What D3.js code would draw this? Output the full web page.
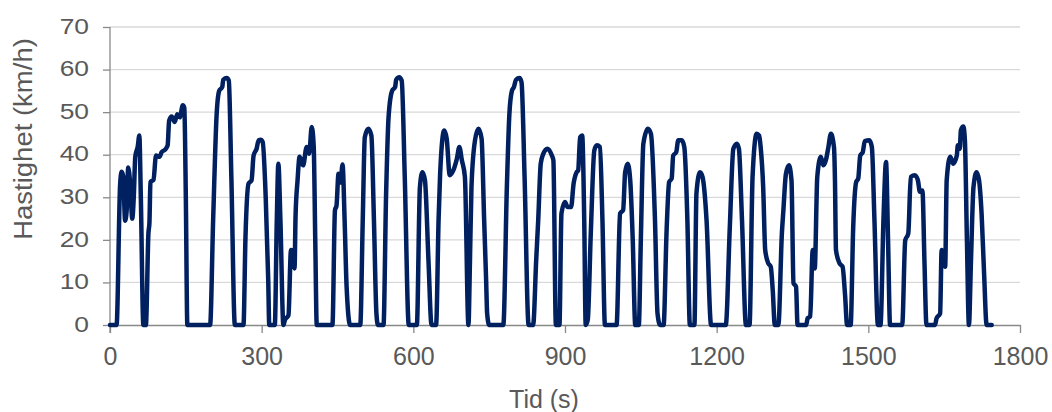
<!DOCTYPE html>
<html>
<head>
<meta charset="utf-8">
<script src="https://cdn.jsdelivr.net/npm/d3@7"></script>
<style>
  html, body { margin: 0; padding: 0; background: #fff; }
  svg { display: block; font-family: "Liberation Sans", Arial, sans-serif; }
</style>
</head>
<body>
<svg id="chart" width="1052" height="412"></svg>
<script>
// Driving cycle: time (s) and speed (km/h)
const time = [
  0, 13, 20, 23, 26, 30, 33, 36, 40, 44, 47, 50, 55, 58, 61, 66, 71, 76, 78, 80,
  86, 91, 98, 102, 109, 114, 117, 122, 128, 133, 138, 144, 147, 150, 153, 198, 204, 211, 216, 222,
  224, 231, 235, 240, 247, 264, 268, 274, 280, 284, 290, 294, 298, 302, 308, 313, 315, 326, 330, 333,
  337, 343, 346, 353, 358, 363, 365, 367, 371, 375, 382, 389, 394, 399, 403, 406, 409, 440, 445, 448,
  452, 456, 460, 464, 468, 475, 495, 500, 504, 511, 517, 522, 527, 530, 541, 546, 551, 558, 564, 566,
  572, 577, 583, 591, 607, 613, 618, 623, 630, 636, 645, 650, 653, 661, 666, 672, 679, 686, 691, 696,
  702, 709, 712, 715, 722, 729, 735, 740, 744, 746, 750, 778, 785, 790, 795, 799, 803, 810, 814, 820,
  828, 837, 843, 847, 852, 857, 865, 874, 877, 882, 889, 893, 900, 905, 912, 917, 923, 926, 930, 934,
  938, 941, 945, 951, 958, 963, 969, 974, 979, 1002, 1009, 1015, 1019, 1024, 1029, 1034, 1039, 1046, 1050, 1055,
  1064, 1070, 1078, 1083, 1088, 1095, 1101, 1106, 1111, 1114, 1120, 1124, 1131, 1136, 1142, 1147, 1156, 1160, 1167, 1172,
  1180, 1189, 1218, 1226, 1233, 1240, 1244, 1250, 1258, 1265, 1271, 1279, 1284, 1287, 1292, 1296, 1302, 1307, 1311, 1315,
  1322, 1329, 1332, 1337, 1343, 1348, 1352, 1357, 1360, 1377, 1380, 1385, 1390, 1394, 1399, 1406, 1411, 1416, 1421, 1426,
  1432, 1434, 1436, 1443, 1449, 1454, 1458, 1465, 1470, 1476, 1480, 1484, 1489, 1493, 1502, 1507, 1512, 1519, 1524, 1530,
  1535, 1539, 1543, 1567, 1573, 1579, 1584, 1592, 1598, 1602, 1607, 1611, 1615, 1632, 1635, 1642, 1645, 1652, 1655, 1662,
  1668, 1675, 1677, 1681, 1683, 1688, 1691, 1695, 1699, 1703, 1708, 1714, 1719, 1724, 1729, 1734, 1744
];
const speed = [
  0, 0, 33, 36, 35, 24.5, 27, 37, 33, 25, 30, 39.5, 42, 44.5, 30, 0, 0, 21.5, 24, 33.6,
  34.1, 39.8, 39.5, 40.6, 41.2, 42.2, 48, 49, 47.7, 49.5, 48.8, 51.6, 51, 30, 0, 0, 24.6, 49.6, 55, 55.9,
  57.6, 58, 57.4, 35, 0, 0, 20.7, 33.2, 34, 39.8, 41.4, 43.4, 43.5, 43, 30, 10.5, 0, 0, 25, 37.9,
  25, 0, 1.2, 2.3, 17.6, 17, 13.3, 25.4, 34, 39.5, 37.5, 41.8, 40.2, 46.5, 41.8, 20, 0, 0, 27, 28,
  35.5, 33.5, 37.7, 25, 9, 0, 0, 25, 44.1, 46.1, 44.5, 25, 2.7, 0, 0, 30, 48.8, 55, 55.9, 57.6,
  58.2, 57.4, 35, 0, 0, 32.4, 35.9, 34, 15, 0, 0, 25, 35.5, 45.7, 43.8, 35.2, 36.3, 39, 41.8, 38.7,
  34.8, 0, 15, 32.4, 43.4, 46.1, 43.8, 25, 10.5, 2.7, 0, 0, 32.4, 49.6, 55, 55.9, 57.6, 58, 57, 35,
  0, 0, 15.2, 24.6, 37.9, 40.2, 41.4, 39.8, 38.7, 0, 0, 26.2, 28.9, 27.7, 27.7, 33.2, 35.9, 36.3, 44.1, 44.5,
  25, 0, 1.2, 21.5, 41, 42.2, 41.8, 25, 0, 0, 26.2, 27, 35.9, 37.9, 34, 20, 0, 0, 20, 42.6,
  46.1, 44.9, 24.6, 2.7, 0, 0, 22.3, 33.6, 34.4, 39.8, 40.6, 43.4, 43.4, 41.8, 25, 0, 0, 30.9, 35.9, 34.8,
  24.6, 0, 0, 23, 41.4, 42.6, 41.4, 25, 0, 0, 34.8, 44.9, 44.5, 41.8, 32.4, 17.6, 14.5, 13.7, 8, 0,
  0, 21.5, 27, 35.5, 37.5, 34, 9.8, 9, 0, 0, 1.6, 2, 17.6, 13.3, 34.8, 39.5, 37.5, 38.7, 41.8, 44.9,
  41.8, 34, 17.6, 14.5, 13.7, 7, 0, 0, 22.7, 33.6, 34.4, 39.8, 40.6, 43.2, 43.4, 41.8, 25, 0, 0, 25,
  38.3, 20, 0, 0, 19.9, 21.5, 34.8, 35.2, 34, 31.3, 31.6, 15, 0, 0, 1.6, 2.7, 17.6, 13.7, 34, 39.5,
  37.9, 39.8, 42.2, 41.4, 45.7, 46.6, 43.4, 20, 0, 15, 32.4, 35.9, 34, 26.2, 12, 0, 0
];
const xTicks = [0, 300, 600, 900, 1200, 1500, 1800];
const yTicks = [0, 10, 20, 30, 40, 50, 60, 70];
const xTitle = "Tid (s)";
const yTitle = "Hastighet (km/h)";

const svg = d3.select("#chart");
const textColor = "#595959";
const axisColor = "#898989";
const gridColor = "#d9d9d9";

const x = d3.scaleLinear().domain([0, 1800]).range([110, 1020]);
const y = d3.scaleLinear().domain([0, 70]).range([325, 27]);

// horizontal gridlines
svg.append("g")
  .selectAll("line")
  .data(yTicks.filter(d => d > 0))
  .join("line")
  .attr("x1", x(0)).attr("x2", x(1800))
  .attr("y1", d => y(d)).attr("y2", d => y(d))
  .attr("stroke", gridColor)
  .attr("stroke-width", 1.3);

// x axis
const gx = svg.append("g")
  .attr("transform", `translate(0,${y(0)})`)
  .call(d3.axisBottom(x).tickValues(xTicks).tickFormat(d3.format("d"))
    .tickSize(8).tickSizeOuter(0).tickPadding(14));
gx.select(".domain").attr("stroke", axisColor).attr("stroke-width", 1.3);
gx.selectAll(".tick line").attr("stroke", axisColor).attr("stroke-width", 1.3);
gx.selectAll(".tick text")
  .attr("fill", textColor)
  .style("font-size", "25px")
  .style("font-family", "'Liberation Sans', Arial, sans-serif");

// y axis
const gy = svg.append("g")
  .attr("transform", `translate(${x(0)},0)`)
  .call(d3.axisLeft(y).tickValues(yTicks).tickSize(7).tickSizeOuter(0).tickFormat(""));
gy.select(".domain").attr("stroke", axisColor).attr("stroke-width", 1.3)
  .attr("d", `M0,${y(70)}V${y(0) + 8}`);
gy.selectAll(".tick line").attr("stroke", axisColor).attr("stroke-width", 1.3);

// y tick labels, slightly widened
svg.append("g")
  .selectAll("text")
  .data(yTicks)
  .join("text")
  .attr("transform", d => `translate(89,${y(d) - 1}) scale(1.2,1)`)
  .attr("text-anchor", "end")
  .attr("dominant-baseline", "central")
  .attr("fill", textColor)
  .style("font-size", "22px")
  .text(d => d);

// axis titles
svg.append("text")
  .attr("x", 544).attr("y", 408)
  .attr("text-anchor", "middle")
  .attr("fill", textColor)
  .style("font-size", "25px")
  .text(xTitle);

svg.append("text")
  .attr("transform", "translate(32,139) rotate(-90) scale(1.1,1)")
  .attr("text-anchor", "middle")
  .attr("fill", textColor)
  .style("font-size", "25px")
  .text(yTitle);

// speed trace
const points = time.map((t, i) => [t, speed[i]]);
const line = d3.line()
  .x(d => x(d[0]))
  .y(d => y(d[1]))
  .curve(d3.curveMonotoneX);

svg.append("path")
  .datum(points)
  .attr("d", line)
  .attr("fill", "none")
  .attr("stroke", "#002060")
  .attr("stroke-width", 4.5)
  .attr("stroke-linejoin", "round")
  .attr("stroke-linecap", "round");
</script>
</body>
</html>
